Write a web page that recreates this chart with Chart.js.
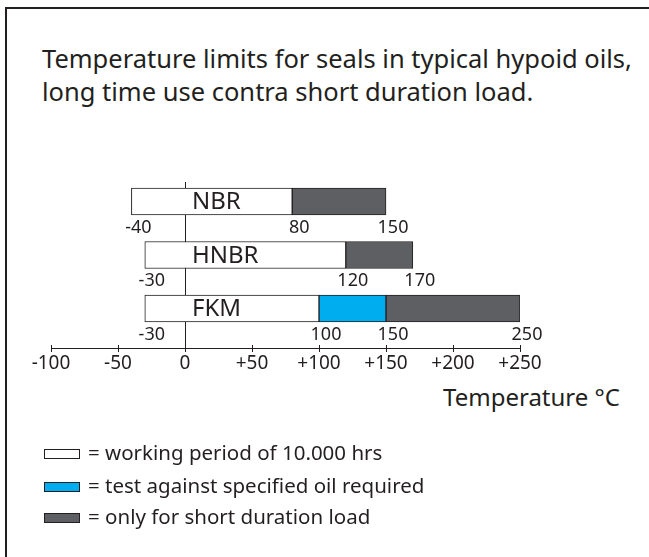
<!DOCTYPE html>
<html>
<head>
<meta charset="utf-8">
<script src="https://cdn.jsdelivr.net/npm/chart.js@4.4.0/dist/chart.umd.min.js"></script>
<style>
  html, body { margin: 0; padding: 0; background: #fff; }
  #wrap { position: relative; width: 649px; height: 557px; overflow: hidden; font-family: "Noto Sans", sans-serif; color: #231f20; }
  #frame { position: absolute; left: 5px; top: 7px; width: 700px; height: 600px; border-top: 2px solid #231f20; border-left: 2px solid #231f20; }
  #title { position: absolute; left: 42px; top: 42px; font-size: 25.5px; line-height: 33px; white-space: nowrap; }
  #unit { position: absolute; right: 29px; top: 382px; font-size: 24px; line-height: 30px; white-space: nowrap; }
  canvas { position: absolute; left: 0; top: 0; }
</style>
</head>
<body>
<div id="wrap">
  <div id="frame"></div>
  <div id="title">Temperature limits for seals in typical hypoid oils,<br>long time use contra short duration load.</div>
  <div id="unit">Temperature °C</div>
  <canvas id="myChart" width="649" height="557"></canvas>
</div>
<script>
// seal materials and their temperature ranges in °C
var seals = ['NBR', 'HNBR', 'FKM'];
var working = [[-40, 80], [-30, 120], [-30, 100]];
var tested = [null, null, [100, 150]];
var shortLoad = [[80, 150], [120, 170], [150, 250]];
var tickValues = [-100, -50, 0, 50, 100, 150, 200, 250];

var ink = '#231f20';

// one floating bar per seal row, rows without a range are left out
function rows(ranges) {
    var out = [];
    ranges.forEach(function (r, i) { if (r) out.push({ x: r, y: i }); });
    return out;
}

// names inside the bars, limit values underneath, and the key at the bottom
var annotate = {
    id: 'annotate',
    afterDatasetsDraw: function (chart) {
        var ctx = chart.ctx;
        var xs = chart.scales.x, ys = chart.scales.y;
        ctx.save();
        ctx.fillStyle = ink;
        ctx.textBaseline = 'middle';

        // small marks above the axis line
        ctx.strokeStyle = ink;
        ctx.lineWidth = 1;
        tickValues.forEach(function (v) {
            var px = Math.round(xs.getPixelForValue(v)) + 0.5;
            ctx.beginPath();
            ctx.moveTo(px, chart.chartArea.bottom - 3);
            ctx.lineTo(px, chart.chartArea.bottom);
            ctx.stroke();
        });

        seals.forEach(function (name, i) {
            var cy = ys.getPixelForValue(i);
            ctx.font = '24px "Noto Sans"';
            ctx.textAlign = 'left';
            ctx.fillText(name, xs.getPixelForValue(0) + 7, cy + 1);

            var edges = [];
            chart.data.datasets.forEach(function (ds) {
                ds.data.forEach(function (d) {
                    if (d.y !== i) return;
                    d.x.forEach(function (v) { if (edges.indexOf(v) < 0) edges.push(v); });
                });
            });
            ctx.font = '18px "Noto Sans"';
            ctx.textAlign = 'center';
            edges.forEach(function (v) {
                ctx.fillText(String(v), xs.getPixelForValue(v) + 7, cy + 26);
            });
        });

        // key
        var keyY = [454, 487, 518];
        chart.data.datasets.forEach(function (ds, k) {
            var y = keyY[k];
            ctx.fillStyle = ds.backgroundColor;
            ctx.fillRect(44, y - 5, 36, 10);
            ctx.strokeStyle = ink;
            ctx.strokeRect(44.5, y - 4.5, 35, 9);
            ctx.fillStyle = ink;
            ctx.font = '20.5px "Noto Sans"';
            ctx.textAlign = 'left';
            ctx.fillText('= ' + ds.label, 88, y);
        });
        ctx.restore();
    }
};

var ctx = document.getElementById('myChart').getContext('2d');
var chart = new Chart(ctx, {
    type: 'bar',
    data: {
        datasets: [{
            label: 'working period of 10.000 hrs',
            backgroundColor: '#ffffff',
            data: rows(working)
        }, {
            label: 'test against specified oil required',
            backgroundColor: '#00adee',
            data: rows(tested)
        }, {
            label: 'only for short duration load',
            backgroundColor: '#5e5f63',
            data: rows(shortLoad)
        }]
    },
    options: {
        indexAxis: 'y',
        responsive: false,
        animation: false,
        events: [],
        layout: { padding: { left: 51, right: 129, top: 182, bottom: 179 } },
        datasets: {
            bar: {
                grouped: false,
                barThickness: 27,
                borderColor: ink,
                borderWidth: 1,
                borderSkipped: false
            }
        },
        plugins: { legend: { display: false }, tooltip: { enabled: false } },
        scales: {
            x: {
                type: 'linear',
                min: -100,
                max: 250,
                afterBuildTicks: function (scale) {
                    scale.ticks = tickValues.map(function (v) { return { value: v }; });
                },
                afterFit: function (scale) { scale.height = 30; },
                ticks: {
                    color: ink,
                    padding: 0,
                    font: { family: 'Noto Sans', size: 19 },
                    callback: function (v) { return v > 0 ? '+' + v : String(v); }
                },
                grid: { drawOnChartArea: false, tickLength: 4, color: ink },
                border: { display: true, color: ink, width: 1 }
            },
            y: {
                type: 'linear',
                reverse: true,
                offset: false,
                min: -0.364,
                max: 2.738,
                position: { x: 0 },
                ticks: { display: false },
                grid: { display: false, offset: false },
                border: { display: true, color: ink, width: 1 }
            }
        }
    },
    plugins: [annotate]
});
</script>
</body>
</html>
